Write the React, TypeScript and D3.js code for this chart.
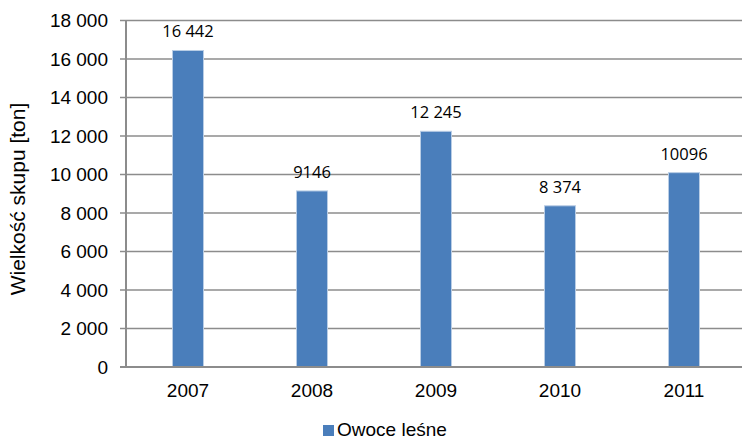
import React from "react";
import * as d3 from "d3";

const categories = ["2007", "2008", "2009", "2010", "2011"];
const values = [16442, 9146, 12245, 8374, 10096];
const valueLabels = ["16 442", "9146", "12 245", "8 374", "10096"];
const yTicks = [0, 2000, 4000, 6000, 8000, 10000, 12000, 14000, 16000, 18000];
const seriesName = "Owoce leśne";
const yTitle = "Wielkość skupu [ton]";

const W = 742;
const H = 440;
const left = 126;
const right = 746;
const top = 20.5;
const bottom = 367;

const fmt = (v: number) => d3.format(",")(v).replace(/,/g, " ");

export default function App() {
  const x = d3.scaleBand<string>().domain(categories).range([left, right]).paddingInner(0.75).paddingOuter(0.375);
  const y = d3.scaleLinear().domain([0, 18000]).range([bottom, top]);
  const grid = "#8c8c8c";
  const font = "Liberation Sans, Arial, sans-serif";
  return (
    <svg width={W} height={H} style={{ position: "absolute", left: 0, top: 0 }}>
      <rect width={W} height={H} fill="#fff" />
      {yTicks.map((t) => (
        <g key={t}>
          {t > 0 && <line x1={left} x2={W} y1={y(t)} y2={y(t)} stroke={grid} strokeWidth={1.5} />}
          <line x1={left - 6} x2={left} y1={y(t)} y2={y(t)} stroke={grid} strokeWidth={1.5} />
          <text x={108} y={y(t)} dy="0.36em" textAnchor="end" fontFamily={font} fontSize={19} fill="#000">
            {fmt(t)}
          </text>
        </g>
      ))}
      {categories.map((c, i) => (
        <g key={c}>
          <rect x={x(c)!} y={y(values[i])} width={x.bandwidth()} height={bottom - y(values[i])} fill="#4a7ebb" stroke="#b9cde5" strokeWidth={1} />
          <text x={x(c)! + x.bandwidth() / 2} y={y(values[i]) - 13} textAnchor="middle" fontFamily="Open Sans, Noto Sans, sans-serif" fontSize={16.5} fill="#000">
            {valueLabels[i]}
          </text>
          <text x={x(c)! + x.bandwidth() / 2} y={397} textAnchor="middle" fontFamily={font} fontSize={19} fill="#000">
            {c}
          </text>
        </g>
      ))}
      <line x1={left} x2={left} y1={top} y2={bottom} stroke={grid} strokeWidth={2} />
      <line x1={left - 6} x2={W} y1={bottom} y2={bottom} stroke={grid} strokeWidth={2} />
      <text transform={`translate(25,199) rotate(-90)`} textAnchor="middle" fontFamily={font} fontSize={21} fill="#000">
        {yTitle}
      </text>
      <rect x={323} y={425} width={11} height={11} fill="#4a7ebb" />
      <text x={337} y={436} fontFamily={font} fontSize={19} fill="#000">
        {seriesName}
      </text>
    </svg>
  );
}
